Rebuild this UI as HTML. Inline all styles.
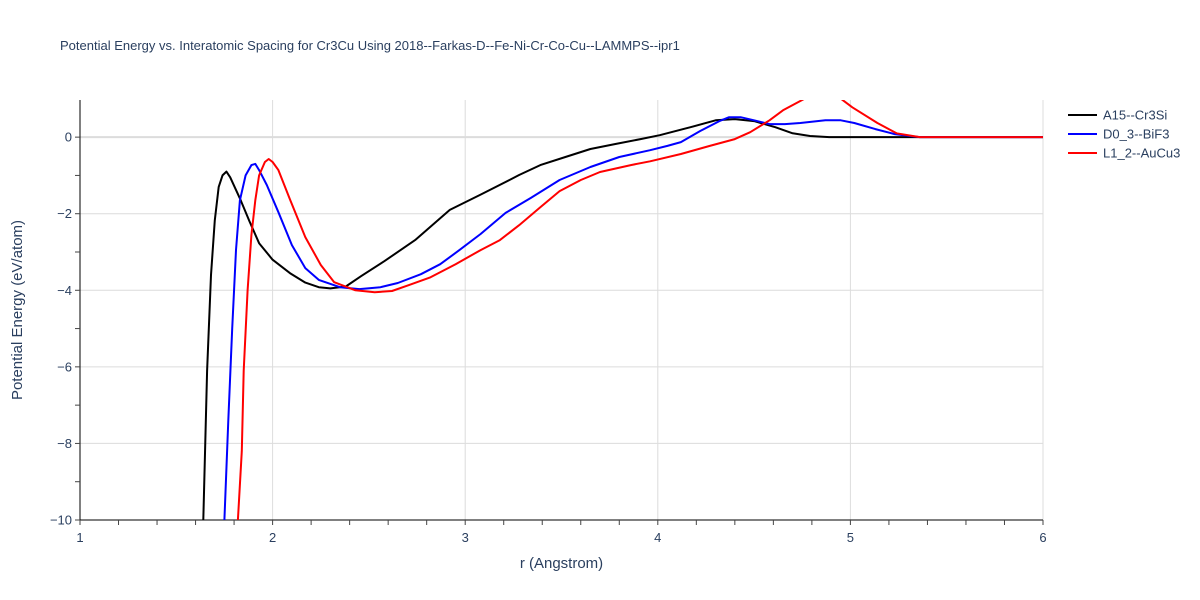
<!DOCTYPE html>
<html><head><meta charset="utf-8"><style>
body{margin:0;background:#fff;font-family:"Liberation Sans",sans-serif}
</style></head><body>
<svg id="chart" width="1200" height="600" style="display:block"></svg>
<script>
const blackR=[1.64,1.66,1.68,1.70,1.72,1.74,1.76,1.78,1.83,1.88,1.93,2.0,2.09,2.17,2.24,2.30,2.38,2.46,2.58,2.74,2.92,3.08,3.23,3.28,3.39,3.52,3.65,3.78,3.91,4.01,4.17,4.30,4.40,4.50,4.61,4.70,4.79,4.89,5.2,5.6,6.0];
const blackE=[-10,-6.1,-3.6,-2.17,-1.3,-1.0,-0.9,-1.05,-1.6,-2.2,-2.77,-3.2,-3.55,-3.8,-3.92,-3.95,-3.9,-3.63,-3.24,-2.69,-1.9,-1.5,-1.12,-0.99,-0.73,-0.52,-0.31,-0.18,-0.05,0.05,0.26,0.44,0.47,0.42,0.26,0.1,0.03,0.0,0,0,0];
const blueR=[1.75,1.77,1.79,1.81,1.83,1.86,1.89,1.91,1.93,1.97,2.03,2.10,2.17,2.24,2.35,2.45,2.56,2.65,2.77,2.87,2.97,3.08,3.21,3.34,3.49,3.65,3.80,3.96,4.05,4.12,4.22,4.32,4.37,4.43,4.50,4.58,4.66,4.74,4.87,4.95,5.02,5.13,5.23,5.36,5.6,6.0];
const blueE=[-10,-7.4,-5.0,-2.95,-1.65,-1.0,-0.73,-0.7,-0.86,-1.25,-1.96,-2.82,-3.42,-3.73,-3.92,-3.97,-3.92,-3.81,-3.58,-3.32,-2.95,-2.53,-1.98,-1.59,-1.12,-0.78,-0.52,-0.34,-0.23,-0.13,0.16,0.42,0.52,0.52,0.44,0.34,0.34,0.37,0.44,0.44,0.37,0.21,0.08,0.0,0,0];
const redR=[1.82,1.84,1.85,1.87,1.89,1.91,1.93,1.96,1.98,2.00,2.03,2.09,2.17,2.25,2.32,2.43,2.53,2.62,2.71,2.82,2.95,3.08,3.18,3.28,3.39,3.49,3.60,3.70,3.86,3.96,4.12,4.27,4.40,4.48,4.58,4.65,4.76,4.85,4.92,5.01,5.14,5.24,5.36,5.6,6.0];
const redE=[-10,-8.2,-6.1,-4.0,-2.56,-1.65,-1.0,-0.65,-0.57,-0.65,-0.86,-1.62,-2.61,-3.34,-3.79,-4.0,-4.05,-4.02,-3.86,-3.66,-3.32,-2.95,-2.69,-2.3,-1.83,-1.41,-1.12,-0.91,-0.73,-0.63,-0.44,-0.23,-0.05,0.13,0.44,0.7,1.0,1.12,1.12,0.78,0.37,0.1,0.0,0,0];
const xTicks=[1,2,3,4,5,6];
const yTicks=[0,-2,-4,-6,-8,-10];
const L=80,R=1043,T=100,B=520,xMin=1,xMax=6,yMin=-10,yMax=0.97;
const sx=v=>L+(v-xMin)/(xMax-xMin)*(R-L);
const sy=v=>B-(v-yMin)/(yMax-yMin)*(B-T);
const svg=document.getElementById('chart');
const NS='http://www.w3.org/2000/svg';
function mk(tag,attrs,parent){const e=document.createElementNS(NS,tag);for(const k in attrs)e.setAttribute(k,attrs[k]);(parent||svg).appendChild(e);return e;}
const defs=mk('defs',{});const cp=mk('clipPath',{id:'clip'},defs);mk('rect',{x:L,y:T,width:R-L,height:B-T},cp);
// grid
xTicks.forEach(v=>{const g=mk('line',{x1:sx(v),x2:sx(v),y1:T,y2:B,stroke:'#dcdcdc','stroke-width':1});
});
yTicks.forEach(v=>{const g=mk('line',{x1:L,x2:R,y1:sy(v),y2:sy(v),stroke:'#dcdcdc','stroke-width':v===0?2:1});
});
// axes
const xa=mk('line',{x1:L,x2:R,y1:B,y2:B,stroke:'#000','stroke-width':1});

const ya=mk('line',{x1:L,x2:L,y1:T,y2:B,stroke:'#000','stroke-width':1});

for(let v=1;v<=6.001;v+=0.2){const t=mk('line',{x1:sx(v),x2:sx(v),y1:B,y2:B+5,stroke:'#444'});
}
for(let v=-10;v<=0.001;v+=1){const t=mk('line',{x1:L-5,x2:L,y1:sy(v),y2:sy(v),stroke:'#444'});
}
xTicks.forEach(v=>{const t=mk('text',{x:sx(v),y:B+22,'text-anchor':'middle','font-size':13,fill:'#2a3f5f'});t.textContent=v;
});
yTicks.forEach(v=>{const t=mk('text',{x:L-8,y:sy(v)+4.5,'text-anchor':'end','font-size':13,fill:'#2a3f5f'});t.textContent=v===0?'0':'\u2212'+Math.abs(v);
});
// series
function series(rs,es,color,name){const d=rs.map((r,i)=>(i?'L':'M')+sx(r).toFixed(1)+','+sy(es[i]).toFixed(1)).join('');
const p=mk('path',{d:d,fill:'none',stroke:color,'stroke-width':2,'clip-path':'url(#clip)','stroke-linejoin':'round'});
}
series(blackR,blackE,'#000','line-a15-cr3si');
series(blueR,blueE,'#0000ff','line-d0-3-bif3');
series(redR,redE,'#ff0000','line-l1-2-aucu3');
// legend
[['A15--Cr3Si','#000'],['D0_3--BiF3','#0000ff'],['L1_2--AuCu3','#ff0000']].forEach((e,i)=>{
const y=115+i*19;const g=mk('g',{});
mk('line',{x1:1068,x2:1097,y1:y,y2:y,stroke:e[1],'stroke-width':2},g);
const t=mk('text',{x:1103,y:y+4.5,'font-size':13,fill:'#2a3f5f'},g);t.textContent=e[0];});
// titles
const tt=mk('text',{x:60,y:50,'font-size':13,fill:'#2a3f5f'});tt.textContent='Potential Energy vs. Interatomic Spacing for Cr3Cu Using 2018--Farkas-D--Fe-Ni-Cr-Co-Cu--LAMMPS--ipr1';

const xt=mk('text',{x:(L+R)/2,y:568,'text-anchor':'middle','font-size':15,fill:'#2a3f5f'});xt.textContent='r (Angstrom)';

const yt=mk('text',{x:22,y:(T+B)/2,'text-anchor':'middle','font-size':15,fill:'#2a3f5f',transform:'rotate(-90 22 '+((T+B)/2)+')'});yt.textContent='Potential Energy (eV/atom)';

</script>
</body></html>
